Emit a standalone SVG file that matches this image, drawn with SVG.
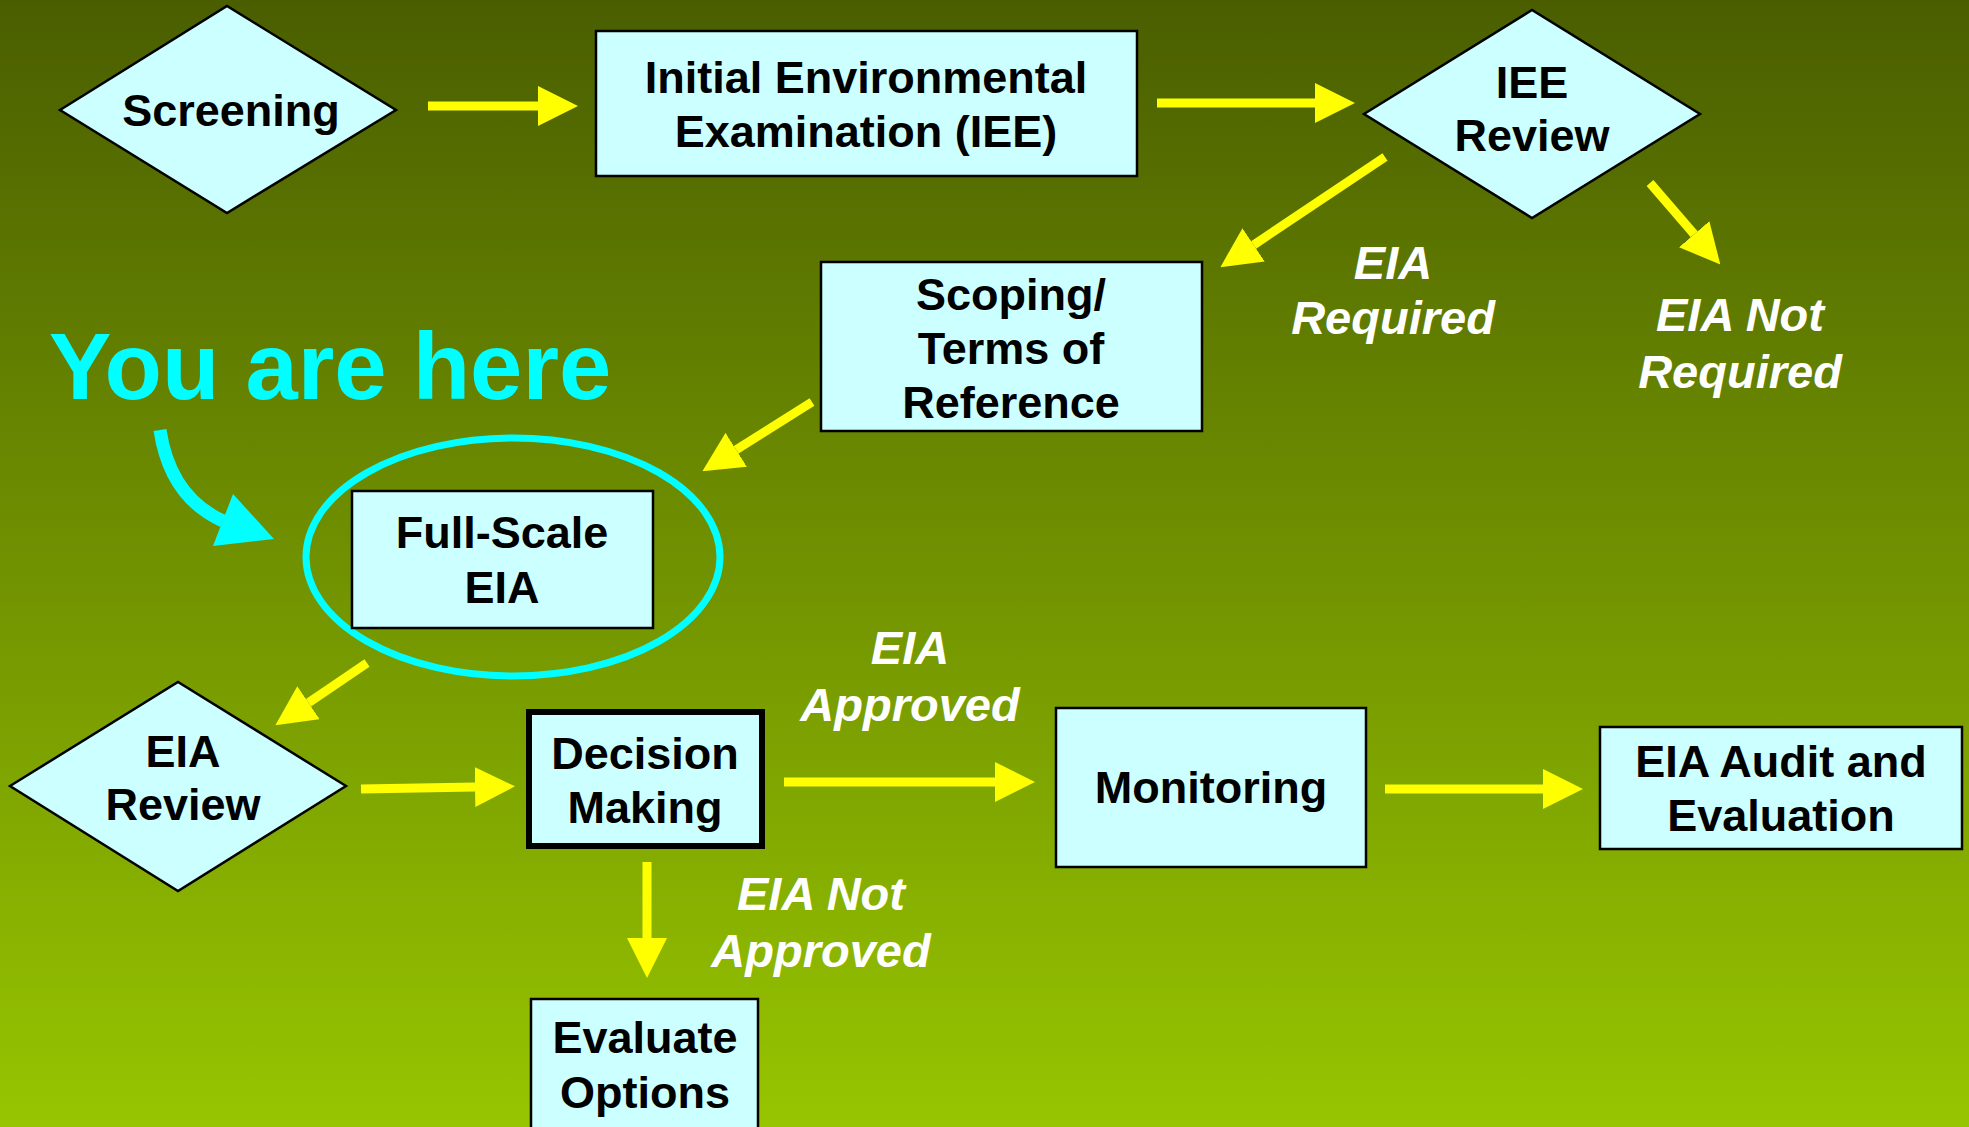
<svg xmlns="http://www.w3.org/2000/svg" width="1969" height="1127" viewBox="0 0 1969 1127">
<defs>
<linearGradient id="bg" x1="0" y1="0" x2="0" y2="1">
<stop offset="0" stop-color="#4A5E00"/>
<stop offset="1" stop-color="#97C500"/>
</linearGradient>
<marker id="ah" markerUnits="userSpaceOnUse" markerWidth="40" markerHeight="40" viewBox="0 0 38 38" refX="0" refY="19" orient="auto">
<path d="M0,0 L38,19 L0,38 Z" fill="#FFFF00"/>
</marker>
<style>
.box{fill:#CCFFFF;stroke:#000;stroke-width:2.5}
.thick{fill:#CCFFFF;stroke:#000;stroke-width:6}
.dia{fill:#CCFFFF;stroke:#000;stroke-width:2.5;stroke-linejoin:miter}
.t{font-family:"Liberation Sans",Arial,sans-serif;font-weight:bold;font-size:45px;fill:#000;text-anchor:middle}
.lbl{font-family:"Liberation Sans",Arial,sans-serif;font-weight:bold;font-style:italic;font-size:47px;fill:#FFF;text-anchor:middle}
.con{stroke:#FFFF00;stroke-width:9;fill:none;marker-end:url(#ah)}
</style>
</defs>
<rect x="0" y="0" width="1969" height="1127" fill="url(#bg)"/>

<g id="connectors">
<path class="con" d="M428,106 L538,106"/>
<path class="con" d="M1157,103 L1315,103"/>
<path class="con" d="M1385,157 L1253.6,244.9"/>
<path class="con" d="M1650,183 L1694.2,234.2"/>
<path class="con" d="M812,402 L736.2,449.8"/>
<path class="con" d="M367,663 L308.5,702.7"/>
<path class="con" d="M361,789 L475,787"/>
<path class="con" d="M784,782 L995,782"/>
<path class="con" d="M1385,789 L1543,789"/>
<path class="con" d="M647,862 L647,938"/>
</g>

<g id="edge-labels">
<text class="lbl" x="1393" y="279">EIA</text>
<text class="lbl" x="1393" y="334">Required</text>
<text class="lbl" x="1740" y="331">EIA Not</text>
<text class="lbl" x="1740" y="388">Required</text>
<text class="lbl" x="910" y="664">EIA</text>
<text class="lbl" x="910" y="721">Approved</text>
<text class="lbl" x="821" y="910">EIA Not</text>
<text class="lbl" x="821" y="967">Approved</text>
</g>

<g id="you-are-here">
<text x="330" y="399" font-family="Liberation Sans, Arial, sans-serif" font-weight="bold" font-size="94" fill="#00FFFF" text-anchor="middle">You are here</text>
<path d="M160,430 Q170,497 223,521" fill="none" stroke="#00FFFF" stroke-width="13"/>
<polygon points="233,494 274,539 213,546" fill="#00FFFF"/>
<ellipse cx="513" cy="557" rx="207" ry="119" fill="none" stroke="#00FFFF" stroke-width="7"/>
</g>

<g id="screening">
<polygon class="dia" points="60,110 227,6 396,110 227,213"/>
<text class="t" x="231" y="126">Screening</text>
</g>

<g id="iee">
<rect class="box" x="596" y="31" width="541" height="145"/>
<text class="t" x="866" y="93">Initial Environmental</text>
<text class="t" x="866" y="147">Examination (IEE)</text>
</g>

<g id="iee-review">
<polygon class="dia" points="1364,114 1532,10 1700,114 1532,218"/>
<text class="t" x="1532" y="98">IEE</text>
<text class="t" x="1532" y="151">Review</text>
</g>

<g id="scoping">
<rect class="box" x="821" y="262" width="381" height="169"/>
<text class="t" x="1011" y="310">Scoping/</text>
<text class="t" x="1011" y="364">Terms of</text>
<text class="t" x="1011" y="418">Reference</text>
</g>

<g id="full-scale-eia">
<rect class="box" x="352" y="491" width="301" height="137"/>
<text class="t" x="502" y="548">Full-Scale</text>
<text class="t" x="502" y="603">EIA</text>
</g>

<g id="eia-review">
<polygon class="dia" points="10,786 178,682 346,786 178,891"/>
<text class="t" x="183" y="767">EIA</text>
<text class="t" x="183" y="820">Review</text>
</g>

<g id="decision-making">
<rect class="thick" x="529" y="712" width="233" height="134"/>
<text class="t" x="645" y="769">Decision</text>
<text class="t" x="645" y="823">Making</text>
</g>

<g id="monitoring">
<rect class="box" x="1056" y="708" width="310" height="159"/>
<text class="t" x="1211" y="803">Monitoring</text>
</g>

<g id="eia-audit">
<rect class="box" x="1600" y="727" width="362" height="122"/>
<text class="t" x="1781" y="777">EIA Audit and</text>
<text class="t" x="1781" y="831">Evaluation</text>
</g>

<g id="evaluate-options">
<rect class="box" x="531" y="999" width="227" height="140"/>
<text class="t" x="645" y="1053">Evaluate</text>
<text class="t" x="645" y="1108">Options</text>
</g>
</svg>
